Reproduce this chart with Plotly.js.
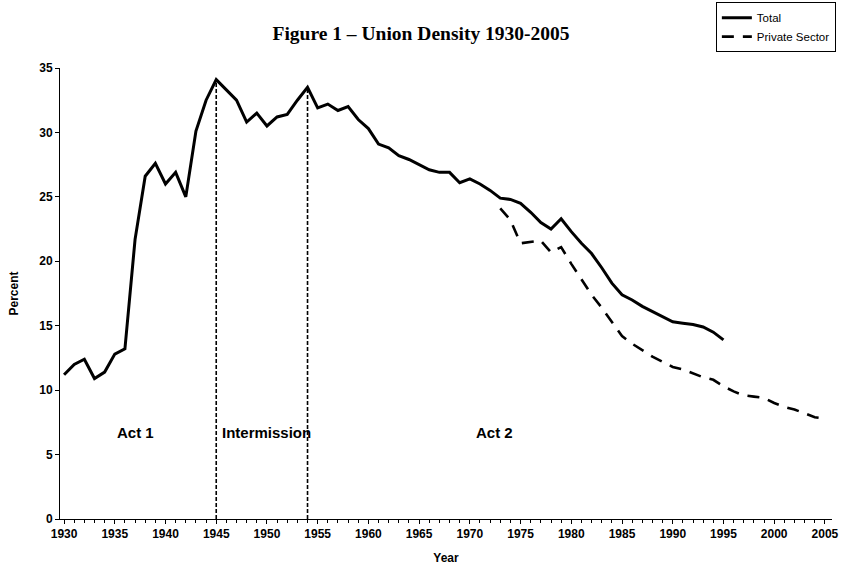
<!DOCTYPE html>
<html>
<head>
<meta charset="utf-8">
<script src="https://cdn.plot.ly/plotly-3.0.1.min.js"></script>
<style>html,body{margin:0;padding:0;background:#fff;}#chart{width:842px;height:565px;}</style>
</head>
<body>
<div id="chart"></div>
<script>
// Total union density, 1930-1995
const totalYears = [];
for (let y = 1930; y <= 1995; y++) totalYears.push(y);
const totalValues = [
  11.2, 12.0, 12.4, 10.9, 11.4, 12.8, 13.2, 21.7, 26.6, 27.6,
  26.0, 26.9, 25.0, 30.1, 32.5, 34.1, 33.3, 32.5, 30.8, 31.5,
  30.5, 31.2, 31.4, 32.5, 33.5, 31.9, 32.2, 31.7, 32.0, 31.0,
  30.3, 29.1, 28.8, 28.2, 27.9, 27.5, 27.1, 26.9, 26.9, 26.1,
  26.4, 26.0, 25.5, 24.9, 24.8, 24.5, 23.8, 23.0, 22.5, 23.3,
  22.3, 21.4, 20.6, 19.5, 18.3, 17.4, 17.0, 16.5, 16.1, 15.7,
  15.3, 15.2, 15.1, 14.9, 14.5, 13.9
];
// Private sector union density, 1973-2005
const privateYears = [];
for (let y = 1973; y <= 2005; y++) privateYears.push(y);
const privateValues = [
  24.1, 23.2, 21.4, 21.5, 21.6, 20.7, 21.1, 19.8, 18.6, 17.4,
  16.4, 15.3, 14.2, 13.6, 13.1, 12.6, 12.2, 11.8, 11.6, 11.3,
  11.0, 10.8, 10.3, 9.9, 9.6, 9.5, 9.4, 9.0, 8.7, 8.5,
  8.2, 7.9, 7.8
];
// Period boundaries and labels
const boundaryYears = [1945, 1954];
const actLabels = ["Act 1", "Intermission", "Act 2"];
const actLabelX = [1937.0, 1949.95, 1972.4];
const actLabelY = [6.7, 6.7, 6.7];
const xTickVals = [1930,1935,1940,1945,1950,1955,1960,1965,1970,1975,1980,1985,1990,1995,2000,2005];
const yTickVals = [0,5,10,15,20,25,30,35];

const sans = "Liberation Sans, Arial, sans-serif";

const traces = [
  {x: totalYears, y: totalValues, name: "Total", type: "scatter", mode: "lines",
   line: {color: "#000", width: 3}},
  {x: privateYears, y: privateValues, name: "Private Sector", type: "scatter", mode: "lines",
   line: {color: "#000", width: 2.6, dash: "12px,9px"}}
];

const shapes = boundaryYears.map(yr => ({
  type: "line", xref: "x", yref: "y",
  x0: yr, x1: yr, y0: 0, y1: totalValues[totalYears.indexOf(yr)],
  line: {color: "#000", width: 1.6, dash: "4px,2px"}
}));

const annotations = actLabels.map((t, i) => ({
  x: actLabelX[i], y: actLabelY[i], xref: "x", yref: "y", text: t, showarrow: false,
  font: {family: sans, size: 15, color: "#000", weight: "bold"}
}));

const layout = {
  width: 842, height: 565,
  margin: {l: 60, r: 10, t: 68, b: 46, pad: 0, autoexpand: false},
  paper_bgcolor: "#fff", plot_bgcolor: "#fff",
  title: {text: "Figure 1 – Union Density 1930-2005", x: 0.5, xanchor: "center", y: 0.942, yanchor: "middle",
          font: {family: "Liberation Serif, Times New Roman, serif", size: 19.5, color: "#000", weight: "bold"}},
  showlegend: true,
  legend: {x: 1.005, xanchor: "right", y: 1.146, yanchor: "top", bordercolor: "#000", borderwidth: 1,
           bgcolor: "#fff", font: {family: sans, size: 11.5, color: "#000"}, tracegroupgap: 0},
  xaxis: {range: [1929.6, 2005.7], tickvals: xTickVals, ticks: "outside", ticklen: 4, tickcolor: "#000",
          showline: true, linecolor: "#000", linewidth: 1, showgrid: false, zeroline: false,
          minor: {dtick: 1, ticks: "outside", ticklen: 3, tickcolor: "#000", showgrid: false},
          tickfont: {family: sans, size: 12, color: "#000", weight: "bold"},
          title: {text: "Year", standoff: 14, font: {family: sans, size: 12, color: "#000", weight: "bold"}}},
  yaxis: {range: [0, 35], tickvals: yTickVals, ticks: "outside", ticklen: 4, tickcolor: "#000",
          showline: true, linecolor: "#000", linewidth: 1, showgrid: false, zeroline: false,
          tickfont: {family: sans, size: 12, color: "#000", weight: "bold"},
          title: {text: "Percent", standoff: 18, font: {family: sans, size: 12, color: "#000", weight: "bold"}}},
  shapes: shapes,
  annotations: annotations
};

Plotly.newPlot("chart", traces, layout, {displayModeBar: false, staticPlot: true});
</script>
</body>
</html>
